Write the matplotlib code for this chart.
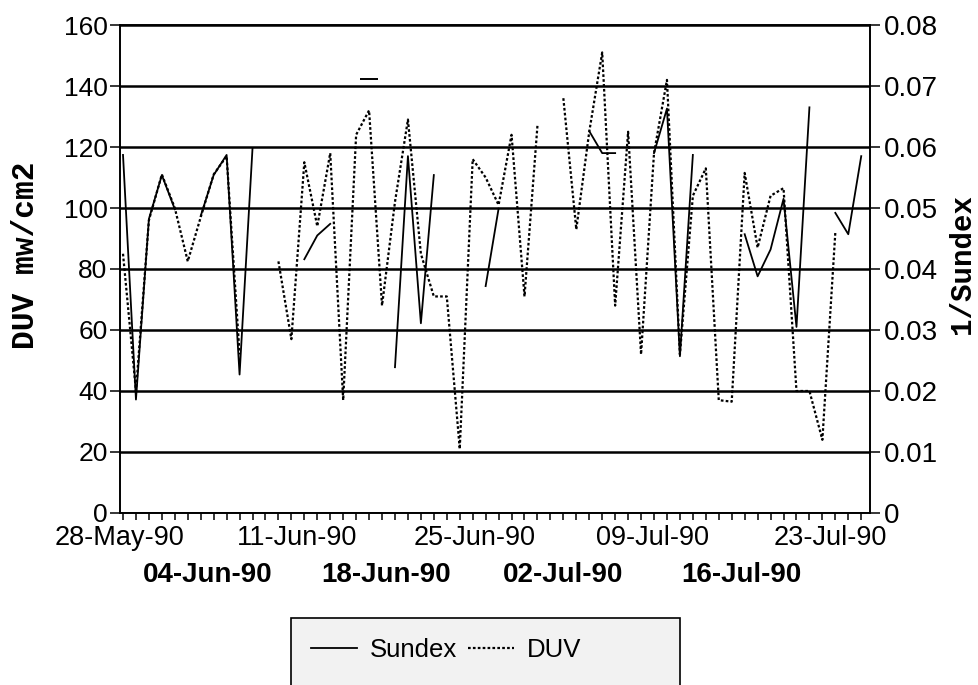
import numpy as np
import pandas as pd
import matplotlib
matplotlib.use("Agg")
import matplotlib.pyplot as plt
import matplotlib.dates as mdates
import matplotlib.transforms as mtransforms
from matplotlib.patches import Rectangle

# daily readings from 28-May-90, gaps are missing days
start = "1990-05-28"
days = pd.date_range(start, periods=58, freq="D")
nan = np.nan

duv = [85, 40, 96, 111, 100, 82.5, 97, 111, 117, 52,
       nan, nan, 82.5, 57, 115, 94, 118, 37, 124, 132,
       68, 102, 129, 85, 71, 71, 21, 116, 110, 101,
       124, 71, 127, nan, 136, 93, 125, 151, 68, 125,
       52, 118, 142, 52, 104, 113, 37, 36.5, 111.5, 87,
       104, 106.5, 40, 40, 24, 92, nan, nan]

inv_sundex = [0.0587, 0.0186, 0.0482, 0.0554, 0.0498, nan, 0.0487, 0.0554, 0.0587, 0.0227,
              0.0598, nan, nan, nan, 0.0416, 0.0455, 0.0474, nan, nan, 0.0711,
              nan, 0.0239, 0.0585, 0.0311, 0.0554, nan, nan, nan, 0.0372, 0.0499,
              nan, nan, nan, nan, nan, nan, 0.0626, 0.059, 0.059, nan,
              nan, 0.059, 0.0663, 0.0257, 0.0587, nan, nan, nan, 0.0457, 0.0388,
              0.0432, 0.0515, 0.0305, 0.0665, nan, 0.0492, 0.0457, 0.0585]

top_labels = ["28-May-90", "11-Jun-90", "25-Jun-90", "09-Jul-90", "23-Jul-90"]
bottom_labels = ["04-Jun-90", "18-Jun-90", "02-Jul-90", "16-Jul-90"]
left_ticks = [0, 20, 40, 60, 80, 100, 120, 140, 160]
right_ticks = [0, 0.01, 0.02, 0.03, 0.04, 0.05, 0.06, 0.07, 0.08]
right_labels = ["0", "0.01", "0.02", "0.03", "0.04", "0.05", "0.06", "0.07", "0.08"]

SANS = "Liberation Sans"
MONO = "Liberation Mono"

fig = plt.figure(figsize=(9.79, 6.85), dpi=100)
ax = fig.add_axes([0.1226, 0.2511, 0.7661, 0.7124])
ax2 = ax.twinx()

ax.plot(days, duv, color="black", lw=1.6, linestyle=(0, (1.2, 1.0)), label="DUV")
ax2.plot(days, inv_sundex, color="black", lw=1.3, label="Sundex")

# lone readings show up as a short dash
s = np.array(inv_sundex)
prev = np.r_[nan, s[:-1]]
nxt = np.r_[s[1:], nan]
lone = ~np.isnan(s) & np.isnan(prev) & np.isnan(nxt)
ax2.plot(days[lone], s[lone], linestyle="none", marker="_", markersize=13,
         mew=1.4, color="black")

ax.set_ylim(0, 160)
ax.set_yticks(left_ticks)
ax.set_yticklabels([str(v) for v in left_ticks], fontfamily=SANS, fontsize=19)
ax2.set_ylim(0, 0.08)
ax2.set_yticks(right_ticks)
ax2.set_yticklabels(right_labels, fontfamily=SANS, fontsize=20)

ax.grid(axis="y", color="black", lw=1.8)
ax.set_axisbelow(True)

x0 = mdates.date2num(days[0])
ax.set_xlim(x0 - 0.23, x0 + 57.68)

major = pd.date_range(start, periods=9, freq="7D")
labels = []
for i in range(9):
    labels.append(top_labels[i // 2] if i % 2 == 0 else bottom_labels[i // 2])
ax.set_xticks(major)
ax.set_xticklabels(labels, fontfamily=SANS, fontsize=19.5)
ax.xaxis.set_minor_locator(mdates.DayLocator())
ax.tick_params(axis="x", which="both", direction="out", length=5, width=1.1, pad=4)
for i, tick in enumerate(ax.xaxis.get_major_ticks()):
    if i % 2 == 1:
        tick.set_pad(30)
        tick.label1.set_fontweight("bold")
        tick.label1.set_fontsize(20)
    # the old chart printed its date labels a little left of their ticks
    shift = mtransforms.ScaledTranslation(-(4 + 1.75 * i) / 100, 0, fig.dpi_scale_trans)
    tick.label1.set_transform(tick.label1.get_transform() + shift)

ax.tick_params(axis="y", direction="out", length=7, width=1.1, pad=2)
ax2.tick_params(axis="y", direction="out", length=7, width=1.1, pad=3)

for a in (ax, ax2):
    for sp in a.spines.values():
        sp.set_linewidth(1.2)
        sp.set_color("black")

fig.text(26 / 979, 1 - 255 / 685, "DUV mw/cm2", rotation=90, ha="center", va="center",
         fontfamily=MONO, fontweight="bold", fontsize=22.5)
fig.text(962 / 979, 1 - 264 / 685, "1/Sundex", rotation=90, ha="center", va="center",
         fontfamily=MONO, fontweight="bold", fontsize=21)

# legend box runs off the bottom edge
box = Rectangle((291 / 979, -0.05), (680 - 291) / 979, (685 - 618) / 685 + 0.05,
                transform=fig.transFigure, facecolor="#f2f2f2", edgecolor="black", lw=1.2)
fig.add_artist(box)
h2, l2 = ax2.get_legend_handles_labels()
h1, l1 = ax.get_legend_handles_labels()
leg = fig.legend(h2 + h1, l2 + l1, loc="center", bbox_to_anchor=(446 / 979, 1 - 650 / 685),
                 ncol=2, frameon=False, handlelength=1.8, handletextpad=0.5,
                 columnspacing=0.4, prop={"family": SANS, "size": 18.5})

fig.savefig("out.png", dpi=100)
